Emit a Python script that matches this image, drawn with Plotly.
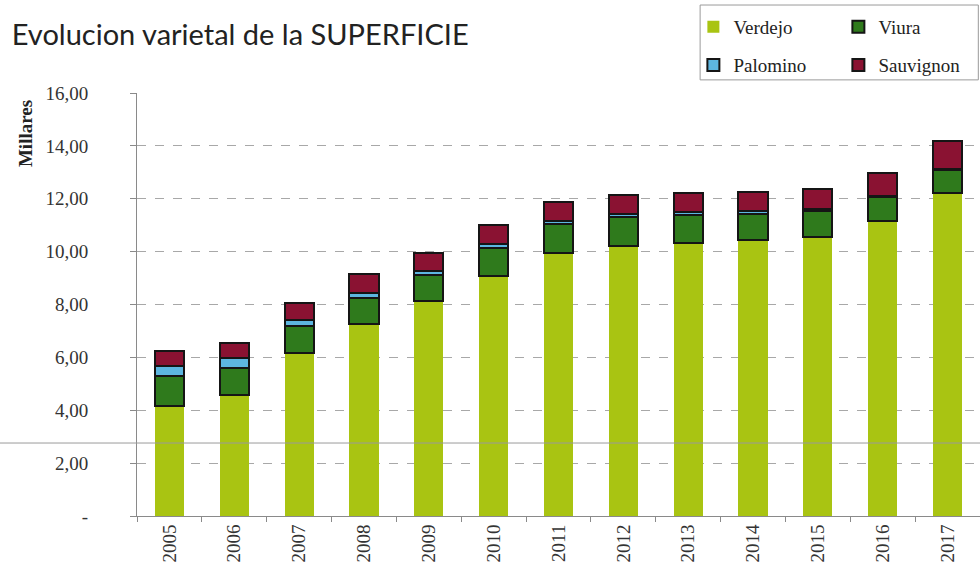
import plotly.graph_objects as go

years = [str(y) for y in range(2005, 2018)]
verdejo = [4.16, 4.58, 6.16, 7.26, 8.13, 9.08, 9.95, 10.21, 10.32, 10.44, 10.55, 11.16, 12.22]
viura = [1.14, 1.02, 1.03, 0.98, 0.98, 1.06, 1.09, 1.10, 1.06, 1.00, 0.99, 0.89, 0.85]
palomino = [0.37, 0.38, 0.22, 0.19, 0.16, 0.15, 0.12, 0.11, 0.12, 0.08, 0.07, 0.05, 0.05]
sauvignon = [0.57, 0.56, 0.65, 0.72, 0.68, 0.73, 0.72, 0.72, 0.70, 0.73, 0.76, 0.87, 1.06]

y_tickvals = [0, 2, 4, 6, 8, 10, 12, 14, 16]
y_ticktext = ["-", "2,00", "4,00", "6,00", "8,00", "10,00", "12,00", "14,00", "16,00"]

serif = "Liberation Serif, Times New Roman, serif"

fig = go.Figure()
fig.add_trace(go.Bar(name="Verdejo", x=years, y=verdejo, legend="legend",
                     marker=dict(color="#a9c412", line=dict(width=0))))
fig.add_trace(go.Bar(name="Viura", x=years, y=viura, legend="legend",
                     marker=dict(color="#2f7a1c", line=dict(color="#151515", width=2))))
fig.add_trace(go.Bar(name="Palomino", x=years, y=palomino, legend="legend2",
                     marker=dict(color="#5db6e0", line=dict(color="#151515", width=2))))
fig.add_trace(go.Bar(name="Sauvignon", x=years, y=sauvignon, legend="legend2",
                     marker=dict(color="#8a1232", line=dict(color="#151515", width=2))))

legend_common = dict(orientation="h", xanchor="left", yanchor="middle",
                     entrywidth=100, entrywidthmode="pixels",
                     borderwidth=0, bgcolor="rgba(0,0,0,0)",
                     font=dict(family=serif, size=19, color="#222222"),
                     traceorder="normal")

fig.update_layout(
    barmode="stack",
    bargap=0.55,
    width=980, height=585,
    margin=dict(l=137, r=0, t=93, b=69, autoexpand=False),
    paper_bgcolor="white", plot_bgcolor="white",
    font=dict(family=serif, color="#333333"),
    title=dict(text="Evolucion varietal de la SUPERFICIE",
               font=dict(family="Lato, Open Sans, sans-serif", size=29, color="#222222"),
               x=0.012, xanchor="left", y=0.94, yanchor="middle"),
    legend=dict(x=0.66, y=1.156, **legend_common),
    legend2=dict(x=0.66, y=1.066, **legend_common),
    showlegend=True,
)

fig.update_yaxes(range=[0, 16], tickvals=y_tickvals, ticktext=y_ticktext,
                 showgrid=True, gridcolor="#a8a8a8", griddash="dash", gridwidth=1,
                 showline=True, linecolor="#8a8a8a", linewidth=1,
                 ticks="outside", ticklen=6, tickcolor="#8a8a8a",
                 ticklabelstandoff=38,
                 tickfont=dict(family=serif, size=19, color="#333333"),
                 zeroline=False)
fig.update_xaxes(tickangle=-90, showline=True, linecolor="#8a8a8a", linewidth=1,
                 ticks="outside", ticklen=5, tickcolor="#8a8a8a",
                 tickson="boundaries",
                 tickfont=dict(family=serif, size=19, color="#333333"),
                 showgrid=False)

# legend frame
fig.add_shape(type="rect", xref="paper", yref="paper",
              x0=0.668, x1=0.998, y0=1.031, y1=1.208,
              line=dict(color="#9a9a9a", width=1), fillcolor="rgba(0,0,0,0)")

fig.add_annotation(text="<b>Millares</b>", textangle=-90,
                   xref="paper", yref="paper",
                   x=-0.133, y=0.905, xanchor="center", yanchor="middle",
                   showarrow=False, font=dict(family=serif, size=19, color="#222222"))

# faint horizontal scan line crossing the picture
fig.add_shape(type="line", xref="paper", yref="y", x0=-0.1625, x1=1.0,
              y0=2.76, y1=2.76, line=dict(color="#9a9a9a", width=1), layer="above")

fig.write_html("out.html")
